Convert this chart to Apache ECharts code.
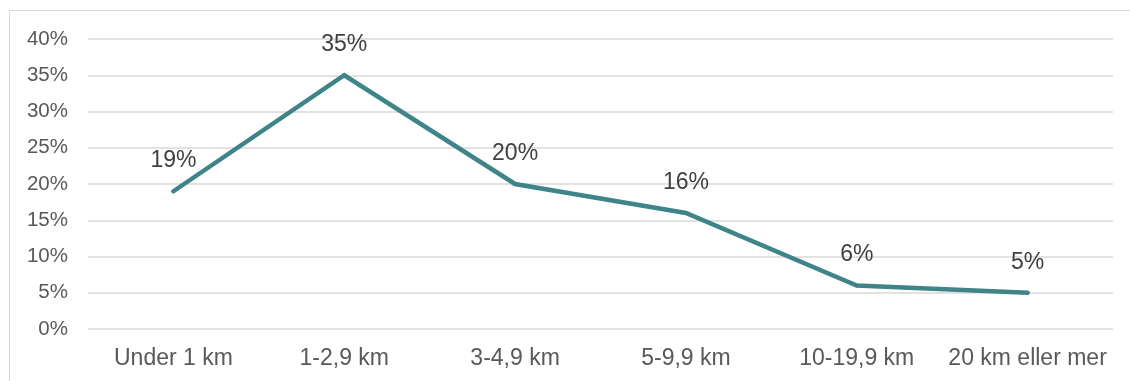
<!DOCTYPE html>
<html>
<head>
<meta charset="utf-8">
<script src="https://cdn.jsdelivr.net/npm/echarts@6/dist/echarts.min.js"></script>
<style>
  html, body { margin: 0; padding: 0; background: #fff; overflow: hidden; }
  #frame { position: absolute; left: 9px; top: 10px; width: 1200px; height: 400px;
           border-left: 1px solid #d9d9d9; border-top: 1px solid #d9d9d9; }
  #chart { position: absolute; left: 0; top: 0; width: 1130px; height: 381px; }
</style>
</head>
<body>
<div id="frame"></div>
<div id="chart"></div>
<script>
// Distance bands and share of trips in each
const categories = ['Under 1 km', '1-2,9 km', '3-4,9 km', '5-9,9 km', '10-19,9 km', '20 km eller mer'];
const shares = [19, 35, 20, 16, 6, 5];
const yTicks = [0, 5, 10, 15, 20, 25, 30, 35, 40];

const FONT = 'Liberation Sans, Arial, sans-serif';

const chart = echarts.init(document.getElementById('chart'), null, { renderer: 'canvas' });
chart.setOption({
  animation: false,
  backgroundColor: 'transparent',
  grid: { left: 88, right: 17, top: 39, bottom: 52, containLabel: false },
  xAxis: {
    type: 'category',
    data: categories,
    boundaryGap: true,
    axisLine: { show: false },
    axisTick: { show: false },
    axisLabel: { color: '#595959', fontSize: 23, fontFamily: FONT, margin: 18, interval: 0 }
  },
  yAxis: {
    type: 'value',
    min: yTicks[0],
    max: yTicks[yTicks.length - 1],
    interval: 5,
    axisLine: { show: false },
    axisTick: { show: false },
    splitLine: { lineStyle: { color: '#d9d9d9', width: 1.5 } },
    axisLabel: { color: '#595959', fontSize: 20.5, fontFamily: FONT, margin: 20,
                 formatter: v => v + '%' }
  },
  series: [{
    type: 'line',
    data: shares,
    symbol: 'circle',
    symbolSize: 4,
    itemStyle: { color: '#3f8488' },
    lineStyle: { color: '#3f8488', width: 4.5, cap: 'round', join: 'miter' },
    label: {
      show: true,
      position: 'top',
      distance: 17,
      color: '#404040',
      fontSize: 23,
      fontFamily: FONT,
      formatter: p => p.value + '%'
    }
  }]
});
</script>
</body>
</html>
